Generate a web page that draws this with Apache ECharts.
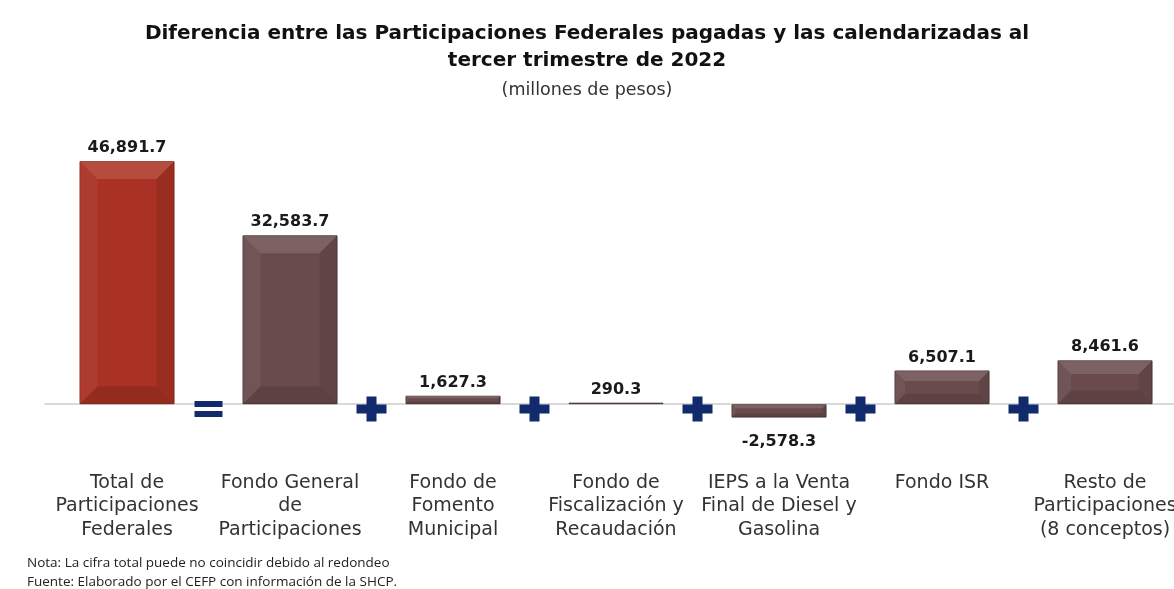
<!DOCTYPE html>
<html><head><meta charset="utf-8">
<script src="https://cdn.jsdelivr.net/npm/echarts@6/dist/echarts.min.js"></script>
<style>html,body{margin:0;padding:0;background:#fff}#c{width:1174px;height:589px}</style>
</head><body><div id="c"></div>
<script>
const categories = [
  'Total de\nParticipaciones\nFederales',
  'Fondo General\nde\nParticipaciones',
  'Fondo de\nFomento\nMunicipal',
  'Fondo de\nFiscalización y\nRecaudación',
  'IEPS a la Venta\nFinal de Diesel y\nGasolina',
  'Fondo ISR',
  'Resto de\nParticipaciones\n(8 conceptos)'
];
const values = [46891.7, 32583.7, 1627.3, 290.3, -2578.3, 6507.1, 8461.6];
const operators = ['=', '+', '+', '+', '+', '+'];
const operatorLevel = -950;

const FACE_RED = '#a93224';
const FACE_BROWN = '#6a4b4d';
const BAR_W = 95;
const PLUS = 'path://M10,0H20V8H30V17H20V25H10V17H0V8H10Z';
const EQUAL = 'path://M0,0H28V6H0Z M0,10H28V16H0Z';
const FONT = 'DejaVu Sans';

const fmt = v => (v < 0 ? '-' : '') + Math.abs(v).toLocaleString('en-US', {minimumFractionDigits: 1, maximumFractionDigits: 1});

const chart = echarts.init(document.getElementById('c'));
chart.setOption({
  animation: false,
  title: [
    {
      text: 'Diferencia entre las Participaciones Federales pagadas y las calendarizadas al\ntercer trimestre de 2022',
      subtext: '(millones de pesos)',
      left: 'center', top: 15, itemGap: 5,
      textStyle: {fontFamily: FONT, fontSize: 20, fontWeight: 'bold', color: '#111', lineHeight: 27},
      subtextStyle: {fontFamily: FONT, fontSize: 17.5, color: '#333', lineHeight: 22}
    },
    {
      text: 'Nota: La cifra total puede no coincidir debido al redondeo\nFuente: Elaborado por el CEFP con información de la SHCP.',
      left: 22, top: 549,
      textStyle: {fontFamily: 'Open Sans', fontSize: 13.5, fontWeight: 'normal', color: '#222', lineHeight: 19}
    }
  ],
  grid: {left: 45.5, width: 1141, top: 145, bottom: 133, containLabel: false, outerBoundsMode: 'none'},
  xAxis: [
    {
      type: 'category', data: categories,
      axisLine: {onZero: true, lineStyle: {color: '#d9d9d9', width: 2}},
      axisTick: {show: false},
      axisLabel: {interval: 0, margin: 15, fontFamily: FONT, fontSize: 19, lineHeight: 23.5, color: '#333'}
    },
    {type: 'value', min: 0, max: 7, show: false}
  ],
  yAxis: {type: 'value', min: -10000, max: 50000, show: false, splitLine: {show: false}},
  series: [
    {
      type: 'bar', barWidth: BAR_W,
      data: values.map((v, i) => ({
        value: v,
        itemStyle: {color: i === 0 ? FACE_RED : FACE_BROWN, borderColor: i === 0 ? '#8e281b' : '#4f3839', borderWidth: 1},
        label: {position: v < 0 ? 'bottom' : 'top', distance: v < 0 ? 16 : 5}
      })),
      label: {show: true, formatter: p => fmt(p.value), fontFamily: FONT, fontSize: 16, fontWeight: 'bold', color: '#1a1a1a'},
      z: 2
    },
    {
      type: 'custom', z: 3, silent: true,
      data: values.map((v, i) => [i, v]),
      renderItem: (params, api) => {
        const i = api.value(0), v = api.value(1);
        const top = api.coord([i, v]);
        const base = api.coord([i, 0]);
        const x0 = top[0] - BAR_W / 2, x1 = top[0] + BAR_W / 2;
        const yt = Math.min(top[1], base[1]), yb = Math.max(top[1], base[1]);
        const h = yb - yt;
        const b = Math.min(18, h / 3.2);
        const poly = (pts, fill) => ({type: 'polygon', shape: {points: pts}, style: {fill: fill}});
        return {
          type: 'group',
          children: [
            poly([[x0, yt], [x1, yt], [x1 - b, yt + b], [x0 + b, yt + b]], 'rgba(255,255,255,0.13)'),
            poly([[x0, yt], [x0 + b, yt + b], [x0 + b, yb - b], [x0, yb]], 'rgba(255,255,255,0.05)'),
            poly([[x1, yt], [x1, yb], [x1 - b, yb - b], [x1 - b, yt + b]], 'rgba(0,0,0,0.09)'),
            poly([[x0, yb], [x1, yb], [x1 - b, yb - b], [x0 + b, yb - b]], 'rgba(0,0,0,0.12)')
          ]
        };
      }
    },
    {
      type: 'scatter', xAxisIndex: 1, z: 4, silent: true,
      data: operators.map((s, i) => ({
        value: [i + 1, operatorLevel],
        symbol: s === '=' ? EQUAL : PLUS,
        symbolSize: s === '=' ? [28, 16] : [30, 25]
      })),
      itemStyle: {color: '#102a6c', opacity: 1}
    }
  ]
});
</script></body></html>
